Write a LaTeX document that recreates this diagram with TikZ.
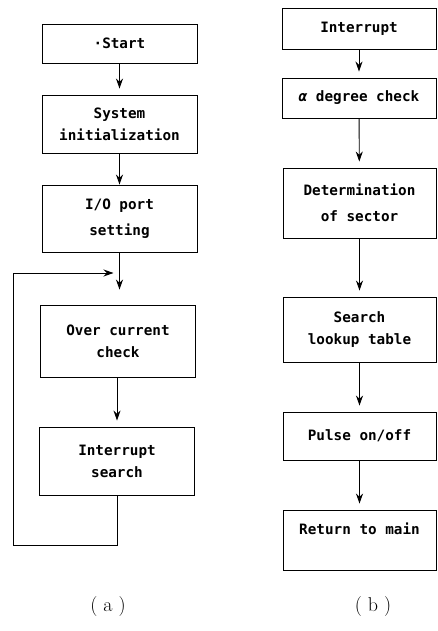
\documentclass[tikz,border=0pt]{standalone}
\usepackage{fontspec}
\newfontfamily\boxfont{DejaVu Sans Mono}
\usetikzlibrary{arrows.meta}

\begin{document}
\begin{tikzpicture}[x=1pt, y=-1pt, line width=.9pt,
    every node/.style={draw, rectangle, black, inner sep=0pt, minimum width=155pt,
      align=center, font=\boxfont\bfseries\fontsize{14.3}{22}\selectfont},
    arr/.style={-{Stealth[length=10pt,width=7pt]}, shorten >=6pt}]
    \useasboundingbox (0,0) rectangle (437,631);

    \node (start) at (119.5,43.5) [minimum height=39pt] {·Start};
    \node (init) at (119.5,124) [minimum height=58pt] {System\\initialization};
    \node (io) at (119.5,218.5) [minimum height=67pt] {I/O port\\[4pt]setting};
    \node (over) at (118,341) [minimum height=72pt] {Over current\\check};
    \node (isearch) at (117,461) [minimum height=68pt] {Interrupt\\search};

    \node (intr) at (359,28.5) [minimum height=41pt, minimum width=154pt] {Interrupt};
    \node (alpha) at (359,98) [minimum height=40pt, minimum width=154pt] {{\itshape α} degree check};
    \node (det) at (359.5,203) [minimum height=70pt, minimum width=153pt] {Determination\\[4pt]of sector};
    \node (lookup) at (359.5,329.5) [minimum height=65pt, minimum width=153pt] {Search\\lookup table};
    \node (pulse) at (359.5,436) [minimum height=48pt, minimum width=153pt] {Pulse on/off};
    \node (ret) at (359.5,540) [minimum height=60pt, minimum width=153pt, text depth=22pt] {Return to main};

    \coordinate (lb) at (13,545);
    \coordinate (lt) at (13,273);
    \coordinate (join) at (119.5,273);

    \draw[arr] (start) -- (init);
    \draw[arr, shorten >=0pt] (init) -- (io);
    \draw[arr, shorten >=15pt] (io) -- (io.south |- over.north);
    \draw[arr] (over.south -| isearch.north) -- (isearch);
    \draw[arr] (isearch.south) |- (lb) -- (lt) -- (join);

    \draw[arr] (intr) -- (alpha);
    \draw[arr] (alpha) -- (det);
    \draw[arr] (det) -- (lookup);
    \draw[arr] (lookup) -- (pulse);
    \draw[arr] (pulse) -- (ret);

    \node[draw=none, font=\fontsize{20}{24}\selectfont] (capa) at (108,607) {( a )};
    \node[draw=none, font=\fontsize{20}{24}\selectfont] (capb) at (373,607) {( b )};
  \end{tikzpicture}
\end{document}
